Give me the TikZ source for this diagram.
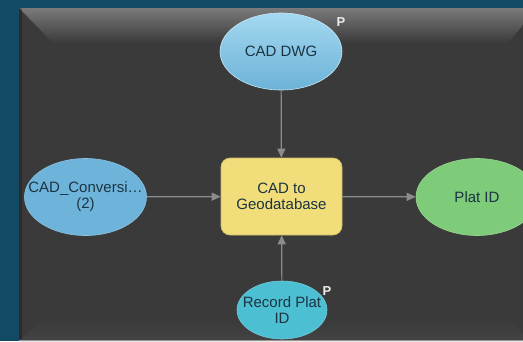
\documentclass[tikz,border=0pt]{standalone}
\usepackage{fontspec}
\setmainfont{Liberation Sans}
\usetikzlibrary{shapes.geometric,arrows.meta}
\definecolor{frameteal}{HTML}{124A66}
\definecolor{panelgray}{HTML}{3A3A3A}
\definecolor{bevellight}{HTML}{7A7A7A}
\definecolor{linkgray}{HTML}{8C8C8C}
\definecolor{labelink}{HTML}{1C3442}
\definecolor{dwgtop}{HTML}{A4D8F0}
\definecolor{dwgbot}{HTML}{6CB2D8}
\definecolor{convblue}{HTML}{6EB4DA}
\definecolor{procyellow}{HTML}{F1DD7A}
\definecolor{outgreen}{HTML}{7ECB79}
\definecolor{paramcyan}{HTML}{4DBFD2}
\tikzset{
  txt/.style={font=\fontsize{15}{16}\selectfont, text=labelink, align=center, inner sep=0pt},
  dataoval/.style={ellipse, inner sep=0pt, minimum width=122pt, minimum height=77pt},
  toolbox/.style={rectangle, rounded corners=9pt, txt, fill=procyellow, draw=procyellow!85!black,
    line width=0.6pt, minimum width=121pt, minimum height=77pt, inner sep=0pt},
  link/.style={draw=linkgray, line width=1.2pt, -{Triangle[length=9pt,width=8pt]}},
  pmark/.style={font=\bfseries\fontsize{13}{13}\selectfont, text=white!85!gray, inner sep=0pt}
}
\begin{document}
\begin{tikzpicture}[x=1pt,y=-1pt]
  \useasboundingbox (0,0) rectangle (523,341);
  % outer frame and dark canvas
  \fill[frameteal] (0,0) rectangle (523,341);
  \fill[panelgray] (19,8) rectangle (523,341);
  % bevelled edges of the canvas
  \begin{scope}
    \clip (19,8) rectangle (523,341);
    \shade[top color=bevellight, bottom color=panelgray] (19,8) -- (537,8) -- (508,43) -- (53,43) -- cycle;
    \fill[black, opacity=0.25] (19,8) rectangle (22,341);
    \shade[top color=panelgray, bottom color=black!45!bevellight] (19,341) -- (45,318) -- (508,318) -- (530,341) -- cycle;
    \draw[bevellight!80!white, line width=1pt] (19,340) -- (523,340);
  \end{scope}

  % model elements (shapes first, captions on top)
  \node[dataoval, top color=dwgtop, bottom color=dwgbot, draw=dwgtop!60!white, line width=0.6pt]
    (dwg) at (281,51.5) {};
  \node[txt] (dwgtext) at (dwg) {CAD DWG};
  \node[dataoval, fill=convblue, draw=convblue!80!white, line width=0.6pt]
    (conv) at (85.5,197) {};
  \node[txt] (convtext) at (conv) {CAD\_Conversi\ldots\\(2)};
  \node[toolbox] (tool) at (281.5,196.5) {CAD to\\Geodatabase};
  \node[dataoval, fill=outgreen, draw=outgreen!80!white, line width=0.6pt]
    (plat) at (477,197) {};
  \node[txt] (plattext) at (plat) {Plat ID};
  \node[dataoval, fill=paramcyan, draw=paramcyan!80!white, line width=0.6pt,
    minimum width=90pt, minimum height=58pt] (rec) at (282,310) {};
  \node[txt] (rectext) at (rec) {Record Plat\\ID};

  % parameter markers
  \node[pmark] (pdwg) at (341,22) {P};
  \node[pmark] (prec) at (327,291) {P};

  % connectors
  \draw[link] (dwg) -- (tool);
  \draw[link] (conv) -- (tool);
  \draw[link] (tool) -- (plat);
  \draw[link] (rec) -- (tool);
\end{tikzpicture}
\end{document}
